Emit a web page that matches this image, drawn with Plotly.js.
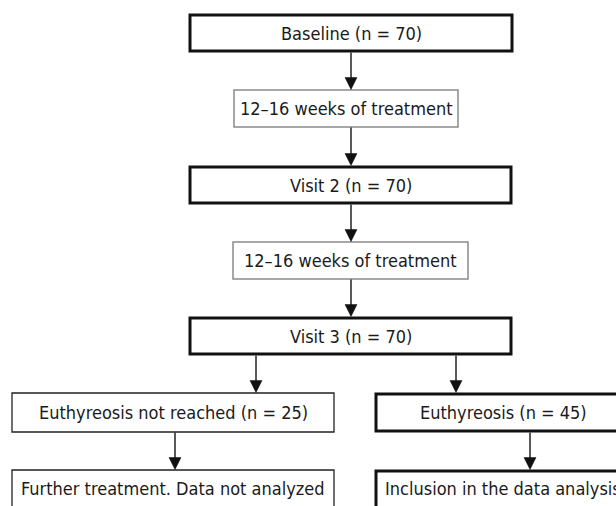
<!DOCTYPE html>
<html>
<head>
<meta charset="utf-8">
<script src="https://cdn.plot.ly/plotly-3.0.1.min.js"></script>
<style>html,body{margin:0;padding:0;background:#fff;}#chart{width:616px;height:506px;}</style>
</head>
<body>
<div id="chart"></div>
<script>
// ---- data ----
const stages = ["Baseline", "12–16 weeks of treatment", "Visit 2", "12–16 weeks of treatment", "Visit 3",
                "Euthyreosis not reached", "Euthyreosis", "Further treatment. Data not analyzed", "Inclusion in the data analysis"];
const counts = [70, null, 70, null, 70, 25, 45, null, null];
const kinds  = ["visit", "treat", "visit", "treat", "visit", "excluded", "visit", "excluded", "visit"];
const links  = [[0,1],[1,2],[2,3],[3,4],[4,5],[4,6],[5,7],[6,8]];

// ---- layout geometry (pixels) ----
const boxes = [
  {x0:190, x1:512, y0:15, y1:51},
  {x0:234, x1:458, y0:90, y1:127},
  {x0:190, x1:511, y0:167, y1:203},
  {x0:233, x1:468, y0:242, y1:279},
  {x0:190, x1:511, y0:318, y1:354},
  {x0:12,  x1:334, y0:393, y1:432},
  {x0:376, x1:631, y0:394, y1:431},
  {x0:12,  x1:334, y0:470, y1:530},
  {x0:376, x1:631, y0:471, y1:530}
];
const arrowX = [351, 351, 351, 351, 256, 456, 175, 530];
const textY  = [null, null, null, null, null, null, null, 488, 488];
const textX  = [null, null, null, null, null, null, 503, 173, 503];
const styles = {
  visit:    {color:"#111", width:3},
  treat:    {color:"#8a8a8a", width:1.5},
  excluded: {color:"#222", width:1.3}
};

const shapes = [];
const annotations = [];
stages.forEach((s, i) => {
  const b = boxes[i];
  const st = styles[kinds[i]];
  shapes.push({type:"rect", xref:"x", yref:"y", x0:b.x0, x1:b.x1, y0:b.y0, y1:b.y1,
               line:{color:st.color, width:st.width}, fillcolor:"rgba(0,0,0,0)"});
  const label = counts[i] !== null ? `${s} (n = ${counts[i]})` : s;
  annotations.push({xref:"x", yref:"y", x: textX[i] !== null ? textX[i] : (b.x0+b.x1)/2,
                    y: textY[i] !== null ? textY[i] : (b.y0+b.y1)/2,
                    text: label, showarrow:false, xanchor:"center", yanchor:"middle",
                    font:{family:"'Liberation Sans Narrow', 'DejaVu Sans Condensed', Arial, sans-serif", size:18, color:"#1a1a1a"}});
});
const headH = 12, headW = 6;
links.forEach(([a, c], k) => {
  const x = arrowX[k];
  const yStart = boxes[a].y1 + (kinds[a]==="visit" ? 1.5 : 0.5);
  const yTip = boxes[c].y0 - (kinds[c]==="visit" ? 1.5 : 0.5);
  shapes.push({type:"line", xref:"x", yref:"y", x0:x, x1:x, y0:yStart, y1:yTip-headH+1,
               line:{color:"#222", width:1.5}});
  shapes.push({type:"path", xref:"x", yref:"y",
               path:`M ${x-headW} ${yTip-headH} L ${x+headW} ${yTip-headH} L ${x} ${yTip} Z`,
               fillcolor:"#111", line:{color:"#111", width:0.5}});
});

const layout = {
  width:616, height:506,
  margin:{l:0, r:0, t:0, b:0},
  paper_bgcolor:"#fff", plot_bgcolor:"#fff",
  xaxis:{range:[0,616], visible:false, fixedrange:true},
  yaxis:{range:[506,0], visible:false, fixedrange:true},
  shapes, annotations, showlegend:false
};
Plotly.newPlot("chart", [], layout, {staticPlot:true, displayModeBar:false});
</script>
</body>
</html>
